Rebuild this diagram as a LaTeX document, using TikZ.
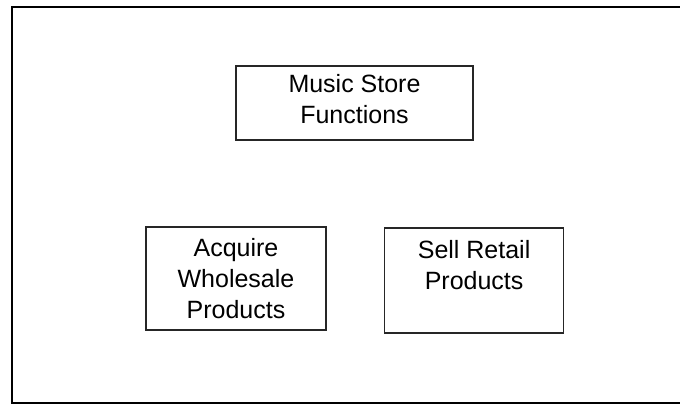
\documentclass[tikz,border=0pt]{standalone}
\usepackage{fontspec}
\setmainfont{Liberation Sans}
\usetikzlibrary{positioning}

\begin{document}
\begin{tikzpicture}[
    x=1pt, y=-1pt,
    func/.style={draw=black!85, line width=1.6pt, align=center, inner sep=0pt, font=\fontsize{25}{31}\selectfont},
    frame/.style={draw=black, line width=2pt}
]
    \useasboundingbox (0,0) rectangle (680,405);
    % Outer frame
    \draw[frame] (680,7) -- (12,7) -- (12,403) -- (680,403);

    % Function nodes
    \node[func, minimum width=237pt, minimum height=74pt, text depth=8pt] (store) at (354.5,103) {Music Store\\Functions};
    \node[func, minimum width=180pt, minimum height=103pt] (acquire) at (236,278.5) {Acquire\\Wholesale\\Products};
    \node[func, minimum width=179pt, minimum height=105pt, right=57pt of acquire, yshift=-2pt] (sell) {Sell Retail\\Products\\\mbox{}};
\end{tikzpicture}
\end{document}
